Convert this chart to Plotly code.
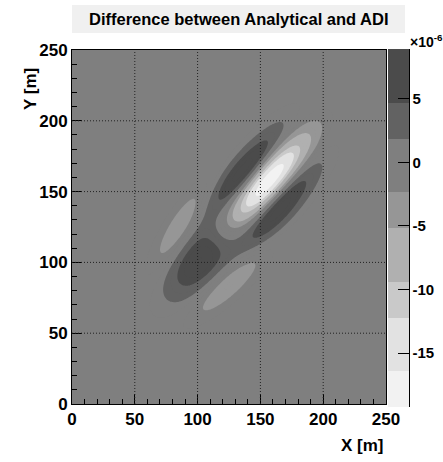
import numpy as np
import plotly.graph_objects as go

# ---- data ----
# lobes of the difference field: centre [m], amplitude [1e-6], sigma along / across [m], orientation [deg]
lobe_x = [157.0, 137.0, 165.0, 102.0, 86.0, 124.0]
lobe_y = [158.0, 165.0, 138.0, 102.0, 123.5, 85.0]
lobe_amp = [-19.6, 9.0, 9.0, 8.0, -4.6, -4.6]
lobe_len = [28.0, 27.0, 27.0, 23.0, 27.0, 28.0]
lobe_wid = [7.8, 7.0, 7.0, 12.5, 7.8, 7.8]
lobe_ang = [45.0, 45.0, 45.0, 45.0, 54.0, 39.0]

x_ticks = [0, 50, 100, 150, 200, 250]
y_ticks = [0, 50, 100, 150, 200, 250]
cbar_ticks = [5, 0, -5, -10, -15]
cbar_ticktext = ["5", "0", "-5", "-10", "-15"]

z_min, z_max = -19.24, 8.92
n_levels = 20
# gray shades (light -> dark) and the level index where each shade starts
band_colors = ["#f2f2f2", "#e2e2e2", "#c9c9c9", "#b0b0b0", "#969696", "#7f7f7f", "#626262", "#4b4b4b"]
band_start = [0, 2, 5, 7, 10, 12, 15, 17, 20]

# ---- field ----
gx = np.linspace(0, 250, 251)
gy = np.linspace(0, 250, 251)
X, Y = np.meshgrid(gx, gy)
Z = np.zeros_like(X)
for x0, y0, a, L, W, ang in zip(lobe_x, lobe_y, lobe_amp, lobe_len, lobe_wid, lobe_ang):
    t = np.deg2rad(ang)
    dx, dy = X - x0, Y - y0
    u = dx * np.cos(t) + dy * np.sin(t)
    v = -dx * np.sin(t) + dy * np.cos(t)
    Z += a * np.exp(-u ** 2 / (2 * L ** 2) - v ** 2 / (2 * W ** 2))

step = (z_max - z_min) / n_levels
nc = n_levels - 1
cscale = []
for i, c in enumerate(band_colors):
    lo = 0.0 if i == 0 else (band_start[i] - 0.5) / nc
    hi = 1.0 if i == len(band_colors) - 1 else (band_start[i + 1] - 0.5) / nc
    cscale.append([lo, c])
    cscale.append([hi, c])

FONT = "Liberation Sans"
L0, R0, T0, B0 = 72, 386, 50, 404
PW, PH = R0 - L0, B0 - T0


def px_x(p):
    return (p - L0) / PW


def px_y(p):
    return (B0 - p) / PH


fig = go.Figure()
fig.add_trace(go.Contour(
    x=gx, y=gy, z=Z,
    zmin=z_min, zmax=z_max,
    autocontour=False,
    contours=dict(start=z_min + step, end=z_max - step * 0.999, size=step,
                  coloring="fill", showlines=False),
    line=dict(width=0),
    colorscale=cscale,
    colorbar=dict(
        x=px_x(388), xanchor="left", xpad=0,
        y=px_y(228), yanchor="middle", len=358 / PH, lenmode="fraction",
        thickness=21, thicknessmode="pixels", ypad=0,
        outlinewidth=0,
        tickmode="array", tickvals=cbar_ticks, ticktext=cbar_ticktext,
        ticks="inside", ticklen=11, tickwidth=1, tickcolor="black",
        tickfont=dict(family=FONT, size=15, color="black", weight="bold"),
    ),
    hoverinfo="skip",
))

axis_common = dict(
    range=[0, 250], tickmode="array",
    ticks="inside", ticklen=10, tickwidth=1, tickcolor="black",
    showline=True, linecolor="black", linewidth=1, mirror=True,
    showgrid=False, zeroline=False, layer="above traces",
    tickfont=dict(family=FONT, size=17, color="black", weight="bold"),
    minor=dict(ticks="inside", ticklen=5, dtick=10, tickcolor="black", showgrid=False),
)
fig.update_xaxes(tickvals=x_ticks, ticktext=[str(t) for t in x_ticks], **axis_common)
fig.update_yaxes(tickvals=y_ticks, ticktext=[str(t) for t in y_ticks], **axis_common)

shapes = []
for t in x_ticks[1:-1]:
    shapes.append(dict(type="line", xref="x", yref="y", x0=t, x1=t, y0=0, y1=250,
                       line=dict(color="#222222", width=1, dash="1px,2px"), layer="above"))
for t in y_ticks[1:-1]:
    shapes.append(dict(type="line", xref="x", yref="y", x0=0, x1=250, y0=t, y1=t,
                       line=dict(color="#222222", width=1, dash="1px,2px"), layer="above"))
# colorbar axis line
shapes.append(dict(type="line", xref="paper", yref="paper",
                   x0=px_x(409.5), x1=px_x(409.5), y0=px_y(407), y1=px_y(49),
                   line=dict(color="black", width=1)))
# title box
shapes.append(dict(type="rect", xref="paper", yref="paper",
                   x0=px_x(72), x1=px_x(405), y0=px_y(33), y1=px_y(5),
                   fillcolor="#f0f0f0", line=dict(width=0)))

annotations = [
    dict(text="Difference between Analytical and ADI", xref="paper", yref="paper",
         x=px_x(238.5), y=px_y(19), xanchor="center", yanchor="middle",
         showarrow=False, font=dict(family=FONT, size=16.5, color="black", weight="bold")),
    dict(text="X [m]", xref="paper", yref="paper", x=px_x(386), y=px_y(446),
         xanchor="right", yanchor="middle", showarrow=False,
         font=dict(family=FONT, size=17, color="black", weight="bold")),
    dict(text="Y [m]", xref="paper", yref="paper", x=px_x(30), y=px_y(66),
         xanchor="center", yanchor="top", textangle=-90, showarrow=False,
         font=dict(family=FONT, size=17, color="black", weight="bold")),
    dict(text="×10<sup>-6</sup>", xref="paper", yref="paper", x=px_x(408), y=px_y(41),
         xanchor="left", yanchor="middle", showarrow=False,
         font=dict(family=FONT, size=14, color="black", weight="bold")),
]

fig.update_layout(
    width=443, height=462,
    margin=dict(l=L0, r=443 - R0, t=T0, b=462 - B0, pad=0, autoexpand=False),
    paper_bgcolor="white", plot_bgcolor="#7f7f7f",
    shapes=shapes, annotations=annotations, showlegend=False,
)

fig.write_html("out.html", config={"displayModeBar": False, "staticPlot": True},
               post_script="document.body.style.margin='0';document.body.style.overflow='hidden';")
